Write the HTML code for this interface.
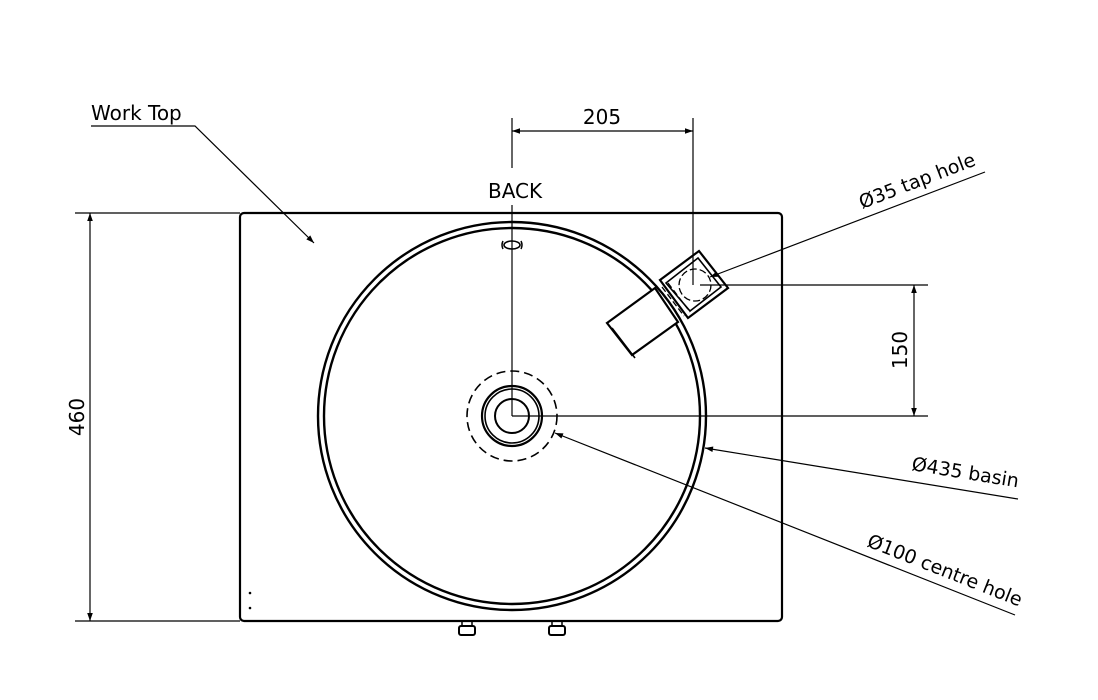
<!DOCTYPE html>
<html><head><meta charset="utf-8"><style>html,body{margin:0;padding:0;background:#fff}svg{display:block}</style></head>
<body>
<svg width="1098" height="700" viewBox="0 0 1098 700" xmlns="http://www.w3.org/2000/svg" font-family="'DejaVu Sans','Liberation Sans',sans-serif" fill="none" stroke="#000">
<defs>
<marker id="a" viewBox="0 0 10 10" refX="10" refY="5" markerWidth="13" markerHeight="8" markerUnits="userSpaceOnUse" orient="auto-start-reverse"><path d="M0,1.5 L10,5 L0,8.5 z" fill="#000" stroke="none"/></marker>
</defs>
<rect x="240" y="213" width="542" height="408" rx="4" stroke-width="2.2"/>
<circle cx="250" cy="593" r="1.3" fill="#000" stroke="none"/>
<circle cx="250" cy="608" r="1.3" fill="#000" stroke="none"/>
<rect x="459" y="626" width="16" height="9" rx="2" stroke-width="2"/>
<line x1="462" y1="622" x2="462" y2="626" stroke-width="1.5"/><line x1="472" y1="622" x2="472" y2="626" stroke-width="1.5"/>
<rect x="549" y="626" width="16" height="9" rx="2" stroke-width="2"/>
<line x1="552" y1="622" x2="552" y2="626" stroke-width="1.5"/><line x1="562" y1="622" x2="562" y2="626" stroke-width="1.5"/>
<circle cx="512" cy="416" r="194" stroke-width="2.4"/>
<circle cx="512" cy="416" r="188" stroke-width="2.4"/>
<ellipse cx="512" cy="245" rx="8" ry="4" stroke-width="1.6"/>
<path d="M503,241 q-2,4 0,8 M521,241 q2,4 0,8" stroke-width="1.5"/>
<circle cx="512" cy="416" r="45" stroke-width="1.6" stroke-dasharray="9,5"/>
<circle cx="512" cy="416" r="30" stroke-width="2.2"/>
<circle cx="512" cy="416" r="27" stroke-width="1.6"/>
<circle cx="512" cy="416" r="17" stroke-width="2"/>
<polygon points="607,323 655,288 678,322 632,355" stroke-width="2.2" fill="#fff"/>
<line x1="612" y1="328" x2="635" y2="358" stroke-width="1.6"/>
<line x1="662" y1="287" x2="684" y2="316" stroke-width="1.3" stroke-dasharray="6,3"/>
<line x1="668" y1="283" x2="690" y2="312" stroke-width="1.3" stroke-dasharray="6,3"/>
<polygon points="660,280 699,251 728,288 688,318" stroke-width="2.2"/>
<polygon points="666,283 698,258 721,287 690,311" stroke-width="1.6"/>
<circle cx="695" cy="285" r="16" stroke-width="1.3" stroke-dasharray="7,3"/>
<g stroke-width="1.2">
<line x1="512" y1="118" x2="512" y2="168"/>
<line x1="512" y1="205" x2="512" y2="416"/>
<line x1="693" y1="118" x2="693" y2="285"/>
<line x1="512" y1="416" x2="928" y2="416"/>
<line x1="700" y1="285" x2="928" y2="285"/>
<line x1="512" y1="131" x2="693" y2="131" marker-start="url(#a)" marker-end="url(#a)"/>
<line x1="914" y1="285" x2="914" y2="416" marker-start="url(#a)" marker-end="url(#a)"/>
<line x1="75" y1="213" x2="240" y2="213"/>
<line x1="75" y1="621" x2="240" y2="621"/>
<line x1="90" y1="213" x2="90" y2="621" marker-start="url(#a)" marker-end="url(#a)"/>
<polyline points="91,126 195,126 314,243" marker-end="url(#a)"/>
<line x1="985" y1="172" x2="710" y2="277" marker-end="url(#a)"/>
<line x1="1018" y1="499" x2="705" y2="448" marker-end="url(#a)"/>
<line x1="1015" y1="615" x2="555" y2="433" marker-end="url(#a)"/>
</g>
<g fill="#000" stroke="none" font-size="20">
<text x="91" y="120">Work Top</text>
<text x="602" y="124" text-anchor="middle">205</text>
<text x="488" y="198">BACK</text>
<text transform="translate(907,350) rotate(-90)" text-anchor="middle">150</text>
<text transform="translate(84,417) rotate(-90)" text-anchor="middle">460</text>
</g>
<g fill="#000" stroke="none" font-size="19">
<text transform="translate(862,209) rotate(-21)">Ø35 tap hole</text>
<text transform="translate(911,470) rotate(9.3)">Ø435 basin</text>
<text transform="translate(866,546) rotate(21.6)">Ø100 centre hole</text>
</g>
</svg>
</body></html>
